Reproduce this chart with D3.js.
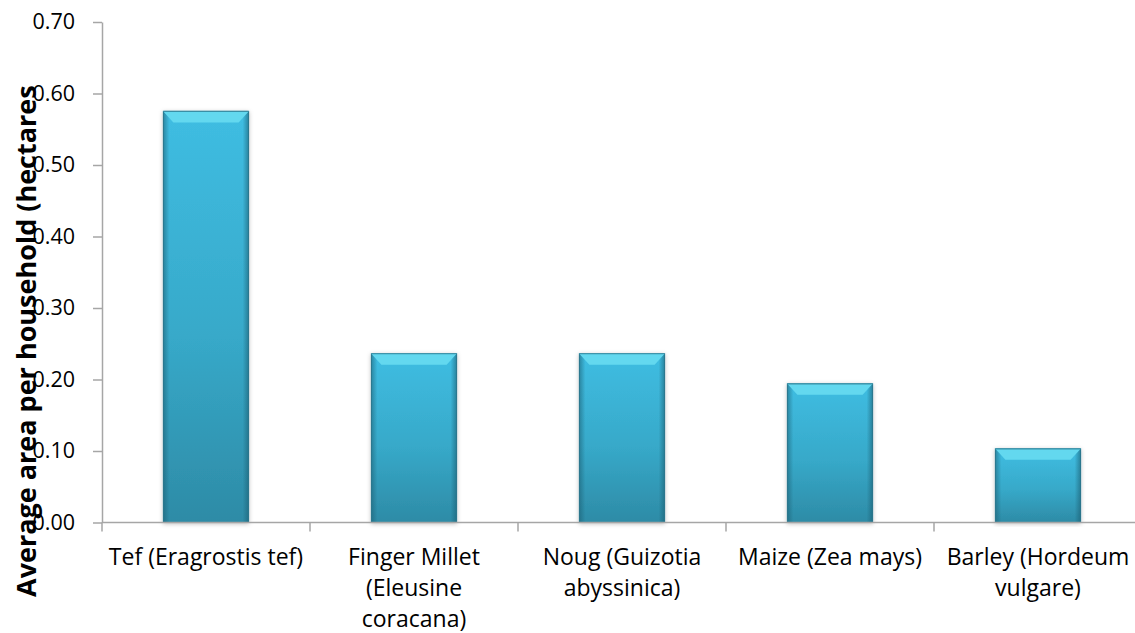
<!DOCTYPE html>
<html>
<head>
<meta charset="utf-8">
<script src="https://cdn.jsdelivr.net/npm/d3@7"></script>
<style>
  body { margin: 0; background: #fff; }
  svg { display: block; font-family: "Open Sans", sans-serif; }
</style>
</head>
<body>
<svg id="chart" width="1135" height="633"></svg>
<script>
// crop names, split into the lines shown under each bar
const crops = ['Tef', 'Finger Millet', 'Noug', 'Maize', 'Barley'];
const cropLabels = [
  ['Tef (Eragrostis tef)'],
  ['Finger Millet', '(Eleusine', 'coracana)'],
  ['Noug (Guizotia', 'abyssinica)'],
  ['Maize (Zea mays)'],
  ['Barley (Hordeum', 'vulgare)']
];
const areaValues = [0.575, 0.236, 0.236, 0.194, 0.103];
const yTicks = [0, 0.1, 0.2, 0.3, 0.4, 0.5, 0.6, 0.7];

const svg = d3.select('#chart');
const plotLeft = 102, plotTop = 22, plotBottom = 522.5;
const plotW = 1040;

const defs = svg.append('defs');
const body = defs.append('linearGradient').attr('id', 'barBody')
  .attr('x1', 0).attr('y1', 0).attr('x2', 0).attr('y2', 1);
body.append('stop').attr('offset', '0%').attr('stop-color', '#3fbde2');
body.append('stop').attr('offset', '55%').attr('stop-color', '#37a9c9');
body.append('stop').attr('offset', '100%').attr('stop-color', '#2d8ba6');

// darker side edges
const sides = defs.append('linearGradient').attr('id', 'barSides')
  .attr('x1', 0).attr('y1', 0).attr('x2', 1).attr('y2', 0);
sides.append('stop').attr('offset', '0%').attr('stop-color', '#1b5e72').attr('stop-opacity', 0.55);
sides.append('stop').attr('offset', '7%').attr('stop-color', '#1b5e72').attr('stop-opacity', 0);
sides.append('stop').attr('offset', '93%').attr('stop-color', '#1b5e72').attr('stop-opacity', 0);
sides.append('stop').attr('offset', '100%').attr('stop-color', '#1b5e72').attr('stop-opacity', 0.6);

const shadow = defs.append('filter').attr('id', 'shadow')
  .attr('x', '-20%').attr('y', '-5%').attr('width', '140%').attr('height', '110%');
shadow.append('feDropShadow').attr('dx', 0).attr('dy', 1).attr('stdDeviation', 2)
  .attr('flood-color', '#000').attr('flood-opacity', 0.25);

const x = d3.scaleBand()
  .domain(crops)
  .range([plotLeft, plotLeft + plotW])
  .paddingInner(0.59)
  .paddingOuter(0.295);

const y = d3.scaleLinear().domain([0, 0.7]).range([plotBottom, plotTop]);

// y axis
const yAxis = svg.append('g')
  .attr('transform', `translate(${plotLeft},0)`)
  .call(d3.axisLeft(y).tickValues(yTicks).tickFormat(d3.format('.2f')).tickSize(9).tickSizeOuter(0));
yAxis.select('.domain').attr('stroke', '#a6a6a6').attr('stroke-width', 1.5);
yAxis.selectAll('.tick line').attr('stroke', '#a6a6a6').attr('stroke-width', 1.5);
yAxis.selectAll('.tick text')
  .attr('x', -27)
  .attr('font-size', 21.5)
  .attr('font-family', '"Open Sans", sans-serif')
  .attr('fill', '#000');

// bars
const bars = svg.append('g').selectAll('g.bar')
  .data(crops)
  .join('g')
  .attr('class', 'bar');

bars.append('rect')
  .attr('x', d => x(d))
  .attr('y', (d, i) => y(areaValues[i]))
  .attr('width', x.bandwidth())
  .attr('height', (d, i) => y(0) - y(areaValues[i]))
  .attr('fill', 'url(#barBody)')
  .attr('stroke', '#2a7f97')
  .attr('stroke-width', 1)
  .attr('filter', 'url(#shadow)');

bars.append('rect')
  .attr('x', d => x(d))
  .attr('y', (d, i) => y(areaValues[i]))
  .attr('width', x.bandwidth())
  .attr('height', (d, i) => y(0) - y(areaValues[i]))
  .attr('fill', 'url(#barSides)');

// bevel on top of each bar
bars.append('path')
  .attr('d', (d, i) => {
    const x0 = x(d), x1 = x(d) + x.bandwidth(), t = y(areaValues[i]);
    return `M${x0},${t}L${x1},${t}L${x1 - 10},${t + 11}L${x0 + 10},${t + 11}Z`;
  })
  .attr('fill', '#63d8ef');
bars.append('line')
  .attr('x1', d => x(d)).attr('x2', d => x(d) + x.bandwidth())
  .attr('y1', (d, i) => y(areaValues[i])).attr('y2', (d, i) => y(areaValues[i]))
  .attr('stroke', '#3a8fa6').attr('stroke-width', 1.2);

// x axis line and band separators
svg.append('line')
  .attr('x1', plotLeft).attr('x2', plotLeft + plotW)
  .attr('y1', plotBottom).attr('y2', plotBottom)
  .attr('stroke', '#a6a6a6').attr('stroke-width', 1.5);

const step = x.step();
svg.append('g').selectAll('line')
  .data(d3.range(crops.length + 1))
  .join('line')
  .attr('x1', k => plotLeft + k * step).attr('x2', k => plotLeft + k * step)
  .attr('y1', plotBottom).attr('y2', plotBottom + 9)
  .attr('stroke', '#a6a6a6').attr('stroke-width', 1.5);

// category labels
svg.append('g').selectAll('text')
  .data(crops)
  .join('text')
  .attr('text-anchor', 'middle')
  .attr('font-size', 23)
  .attr('fill', '#000')
  .each(function (d, i) {
    const t = d3.select(this);
    cropLabels[i].forEach((line, j) => {
      t.append('tspan')
        .attr('x', x(d) + x.bandwidth() / 2)
        .attr('y', 565 + j * 31)
        .text(line);
    });
  });

// y axis title
svg.append('text')
  .attr('transform', 'translate(36,597) rotate(-90)')
  .attr('font-size', 27)
  .attr('font-weight', 'bold')
  .attr('fill', '#000')
  .text('Average area per household (hectares');
</script>
</body>
</html>
